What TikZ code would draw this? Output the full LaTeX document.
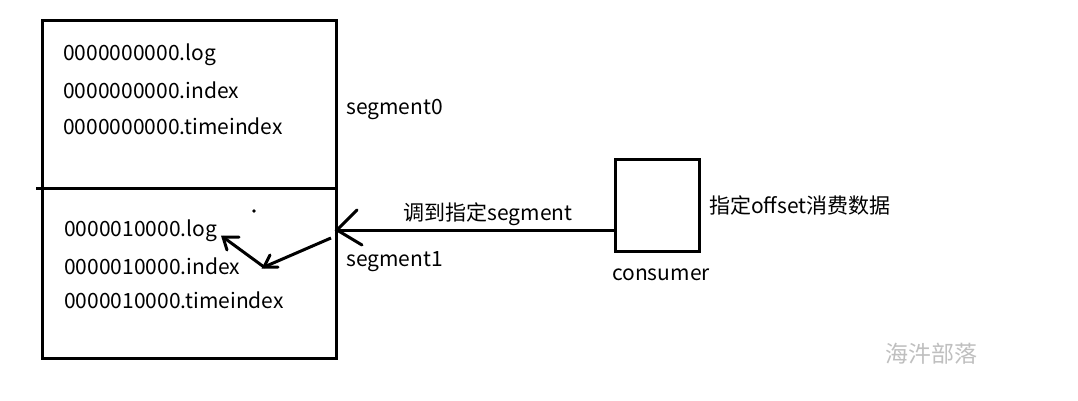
\documentclass[tikz,border=0pt]{standalone}
\usepackage{fontspec}
\setmainfont{Noto Sans CJK SC}
\begin{document}
\begin{tikzpicture}[x=1pt,y=-1pt,
  thick line/.style={line width=3pt},
  lbl/.style={inner sep=0pt,anchor=west,yshift=-2pt,font=\fontsize{21}{24}\selectfont},
  openhead/.style={line width=3pt,line cap=round}]
\useasboundingbox[fill=white] (0,0) rectangle (1078,400);
% main box
\draw[thick line] (42,20) rectangle (336,358);
\coordinate (sl) at (36,188);
\coordinate (sr) at (338,188);
\draw[thick line] (sl) -- (sr);
% files
\node[lbl] (f1) at (63,53) {0000000000.log};
\node[lbl] (f2) at (63,88) {0000000000.index};
\node[lbl] (f3) at (63,124) {0000000000.timeindex};
\node[lbl] (g1) at (64,229) {0000010000.log};
\node[lbl] (g2) at (64,264) {0000010000.index};
\node[lbl] (g3) at (64,298) {0000010000.timeindex};
\node[lbl] (s0) at (346,107) {segment0};
\node[lbl] (s1) at (346,260) {segment1};
\fill (254,211) circle (1.8);
% consumer
\node[draw,line width=3pt,minimum width=84,minimum height=92,inner sep=0pt] (cons) at (657,205) {};
\node[lbl,anchor=center] (cl) at (661,273) {consumer};
\node[lbl] (off) at (709,203) {指定offset消费数据};
% main arrow
\coordinate (tip) at (337,230);
\draw[thick line] (cons.west |- tip) -- (tip);
\node[lbl,anchor=center] (jump) at (488,212) {调到指定segment};
\draw[openhead] (357,210) -- (tip) -- (362,245);
% inner arrows
\coordinate (a1s) at (331,238);
\coordinate (a1t) at (264,267);
\draw[thick line] (a1s) -- (a1t);
\draw[openhead] (278,267) -- (a1t) -- (270,255);
\coordinate (a2t) at (223,237);
\draw[thick line] (a1t) -- (a2t);
\draw[openhead] (239,237) -- (a2t) -- (227,250);
% watermark
\node[inner sep=0pt,yshift=-2pt,font=\fontsize{23}{26}\selectfont,text=black!25] (wm) at (931,352) {海汼部落};
\end{tikzpicture}
\end{document}
